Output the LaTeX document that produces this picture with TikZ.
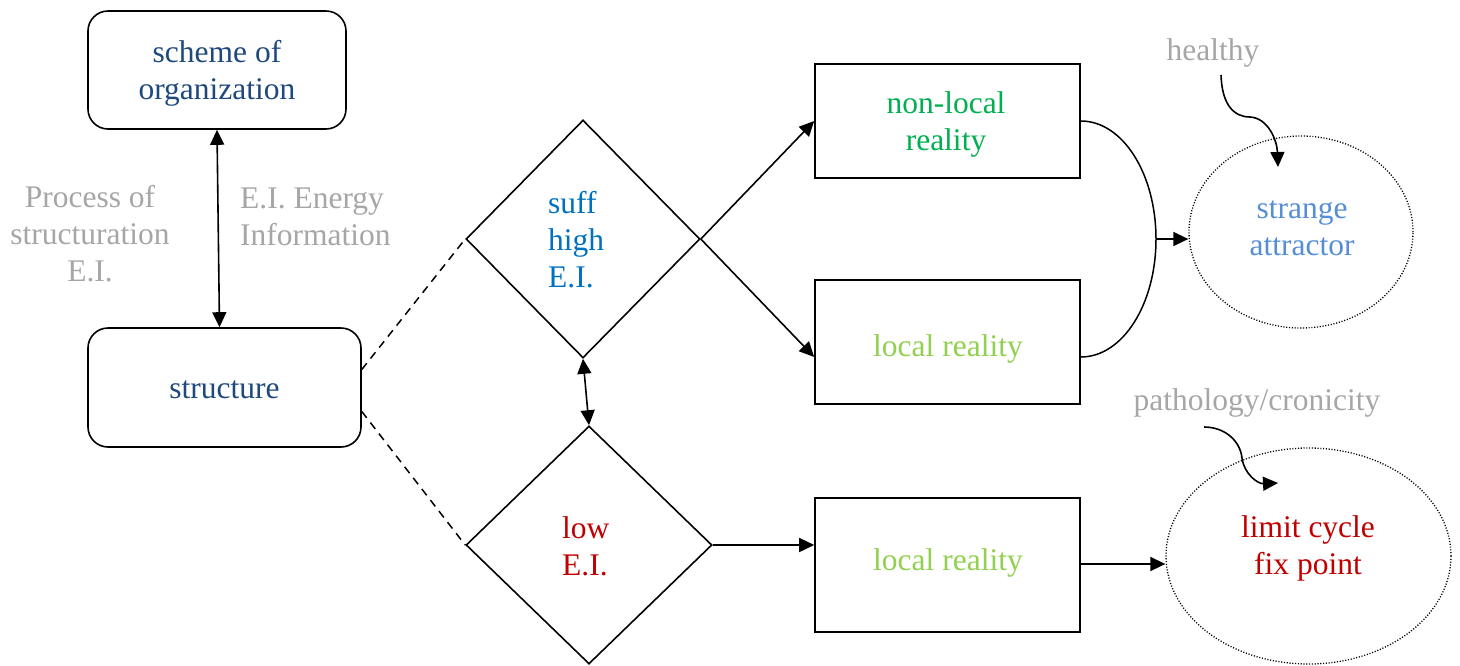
\documentclass[tikz,border=0pt]{standalone}
\usepackage{fontspec}
\setmainfont{Liberation Serif}
\usetikzlibrary{shapes.geometric,arrows.meta,calc}

\definecolor{orgblue}{HTML}{1F497D}
\definecolor{notegray}{HTML}{A6A6A6}
\definecolor{highblue}{HTML}{0070C0}
\definecolor{nlgreen}{HTML}{00B050}
\definecolor{locgreen}{HTML}{92D050}
\definecolor{attrblue}{HTML}{558ED5}
\definecolor{lowred}{HTML}{C00000}

\tikzset{
  every node/.style={font=\fontsize{31.5}{37}\selectfont, align=center, inner sep=0pt},
  roundbox/.style={draw, line width=1.6pt, rounded corners=20pt},
  sqbox/.style={draw, line width=1.6pt},
  decision/.style={draw, diamond, line width=1.6pt, aspect=1},
  orbit/.style={draw, ellipse, line width=1.3pt, dash pattern=on 1.1pt off 1.7pt},
  link/.style={line width=1.6pt, -{Triangle[length=15pt,width=14pt]}},
  twoway/.style={line width=1.6pt, {Triangle[length=15pt,width=14pt]}-{Triangle[length=15pt,width=14pt]}},
  branch/.style={line width=1.5pt, dash pattern=on 8pt off 6pt},
  note/.style={text=notegray}
}

\begin{document}
\begin{tikzpicture}[x=1pt,y=-1pt]
\useasboundingbox (0,0) rectangle (1460,665);

% left column: organization and structure
\node[roundbox, minimum width=258pt, minimum height=118pt]
  (scheme) at (217,70) {};
\node[text=orgblue] (schemetxt) at (217,73) {scheme of\\organization};
\node[roundbox, minimum width=273pt, minimum height=119pt]
  (structure) at (224.5,387.5) {};
\node[text=orgblue] (structuretxt) at (224.5,390) {structure};
\node[note] (process) at (90,234) {Process of\\structuration\\E.I.};
\node[note, anchor=west, align=left] (energy) at (240,217) {E.I. Energy\\Information};
\draw[twoway] (scheme.south) -- ([xshift=-5pt]structure.north);

% decisions on the energy-information level
\node[decision, minimum width=234pt, minimum height=238pt] (d1) at (583,239) {};
\node[text=highblue, anchor=west, align=left] (high) at (548,240) {suff\\high\\E.I.};
\node[decision, minimum width=246pt, minimum height=238pt] (d2) at (589,545) {};
\node[text=lowred, anchor=west, align=left] (low) at (562,546) {low\\E.I.};
\draw[twoway] (d1.south) -- (d2.north);
\draw[branch] ($(structure.east)+(0,-18)$) -- (d1.west);
\draw[branch] ($(structure.east)+(0,24)$) -- (d2.west);

% kinds of reality
\node[sqbox, minimum width=265pt, minimum height=114pt] (nonlocal) at (947.5,121) {};
\node[text=nlgreen] (nonlocaltxt) at (946,124) {non-local\\reality};
\node[sqbox, minimum width=265pt, minimum height=124pt] (local1) at (947.5,342) {};
\node[text=locgreen] (local1txt) at (948,349) {local reality};
\node[sqbox, minimum width=265pt, minimum height=134pt] (local2) at (947.5,565) {};
\node[text=locgreen] (local2txt) at (948,563) {local reality};
\draw[link] (d1.east) -- (nonlocal.west);
\draw[link] (d1.east) -- ($(local1.west)+(0,15)$);
\draw[link] (d2.east) -- (d2.east -| local2.west);

% attractors
\node[orbit, minimum width=224pt, minimum height=192pt] (attr) at (1301,232) {};
\node[text=attrblue] (attrtxt) at (1302,228) {strange\\attractor};
\node[orbit, minimum width=285pt, minimum height=216pt] (limit) at (1308.5,556) {};
\node[text=lowred] (limittxt) at (1308,548) {limit cycle\\fix point};

\coordinate (join) at (1156,239);
\draw[line width=1.5pt] (nonlocal.east) .. controls +(42,0) and +(0,-65) .. (join)
  .. controls +(0,65) and +(42,0) .. ($(local1.east)+(0,15)$);
\draw[link] (join) -- (join -| attr.west);
\draw[link] ($(local2.east)+(0,-1)$) -- ($(local2.east -| limit.west)+(0,-1)$);

% qualitative notes
\node[note] (healthy) at (1213,53) {healthy};
\coordinate (hs) at (1221,75);
\coordinate (he) at (1278,167);
\draw[link] (hs) .. controls (1222,105) and (1234,117) .. (1250,117)
  .. controls (1268,118) and (1277,140) .. (he);

\node[note] (patho) at (1257,403) {pathology/cronicity};
\coordinate (ps) at (1204,427);
\coordinate (pe) at (1278,483);
\draw[link] (ps) .. controls (1224,427) and (1240,440) .. (1242,458)
  .. controls (1244,474) and (1258,484) .. (pe);
\end{tikzpicture}
\end{document}
